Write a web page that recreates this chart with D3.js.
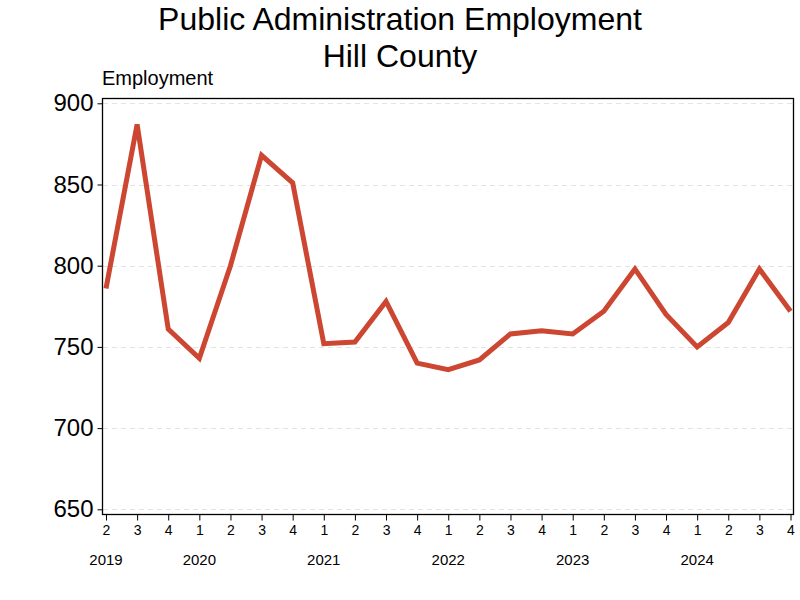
<!DOCTYPE html>
<html>
<head>
<meta charset="utf-8">
<script src="https://cdn.jsdelivr.net/npm/d3@7"></script>
<style>
  body { margin: 0; background: #fff; }
  svg { display: block; font-family: 'Liberation Sans', Arial, sans-serif; }
</style>
</head>
<body>
<div id="chart"></div>
<script>
// quarterly periods, 2019 Q2 .. 2024 Q4
const quarters = ['2','3','4','1','2','3','4','1','2','3','4','1','2','3','4','1','2','3','4','1','2','3','4'];
const years = ['2019', '', '', '2020', '', '', '', '2021', '', '', '', '2022', '', '', '', '2023', '', '', '', '2024', '', '', ''];
const employment = [786, 887, 761, 743, 800, 868, 851, 752, 753, 778, 740, 736, 742, 758, 760, 758, 772, 798, 770, 750, 765, 798, 772];
const yTicks = [650, 700, 750, 800, 850, 900];

const W = 800, H = 600;
const plot = { left: 102, right: 793, top: 98, bottom: 514 };

const svg = d3.select('#chart').append('svg')
  .attr('width', W)
  .attr('height', H);

const x = d3.scalePoint()
  .domain(d3.range(employment.length))
  .range([106, 790.5]);

const y = d3.scaleLinear()
  .domain([650, 900])
  .range([509.3, 103.3]);

// gridlines
svg.append('g')
  .selectAll('line')
  .data(yTicks)
  .join('line')
  .attr('x1', plot.left + 1)
  .attr('x2', plot.right - 1)
  .attr('y1', d => Math.round(y(d)) + 0.5)
  .attr('y2', d => Math.round(y(d)) + 0.5)
  .attr('stroke', '#e3e3e3')
  .attr('stroke-dasharray', '5,4');

// frame
svg.append('rect')
  .attr('x', plot.left + 0.5)
  .attr('y', plot.top + 0.5)
  .attr('width', plot.right - plot.left)
  .attr('height', plot.bottom - plot.top)
  .attr('fill', 'none')
  .attr('stroke', '#000')
  .attr('stroke-width', 1.3);

// y axis
const yAxis = d3.axisLeft(y).tickValues(yTicks).tickSize(5).tickPadding(4);
const gy = svg.append('g')
  .attr('transform', `translate(${plot.left + 0.5},0)`)
  .call(yAxis);
gy.select('.domain').remove();
gy.selectAll('text').attr('font-size', 24).attr('fill', '#000').attr('font-family', 'Liberation Sans, Arial, sans-serif');

// x axis
const xAxis = d3.axisBottom(x).tickFormat(i => quarters[i]).tickSize(6).tickPadding(5);
const gx = svg.append('g')
  .attr('transform', `translate(0,${plot.bottom + 0.5})`)
  .call(xAxis);
gx.select('.domain').remove();
gx.selectAll('text').attr('font-size', 14).attr('fill', '#000').attr('font-family', 'Liberation Sans, Arial, sans-serif');

// year labels
svg.append('g')
  .selectAll('text')
  .data(years.map((yr, i) => ({ yr, i })).filter(d => d.yr))
  .join('text')
  .attr('x', d => x(d.i))
  .attr('y', 565)
  .attr('text-anchor', 'middle')
  .attr('font-size', 15)
  .text(d => d.yr);

// line
const line = d3.line()
  .x((d, i) => x(i))
  .y(d => y(d));

svg.append('path')
  .datum(employment)
  .attr('d', line)
  .attr('fill', 'none')
  .attr('stroke', '#cc4631')
  .attr('stroke-width', 5)
  .attr('stroke-linejoin', 'miter');

// titles
svg.append('text')
  .attr('x', 400)
  .attr('y', 30)
  .attr('text-anchor', 'middle')
  .attr('font-size', 32)
  .text('Public Administration Employment');

svg.append('text')
  .attr('x', 400)
  .attr('y', 67)
  .attr('text-anchor', 'middle')
  .attr('font-size', 32)
  .text('Hill County');

svg.append('text')
  .attr('x', 102)
  .attr('y', 85)
  .attr('font-size', 20)
  .text('Employment');
</script>
</body>
</html>
